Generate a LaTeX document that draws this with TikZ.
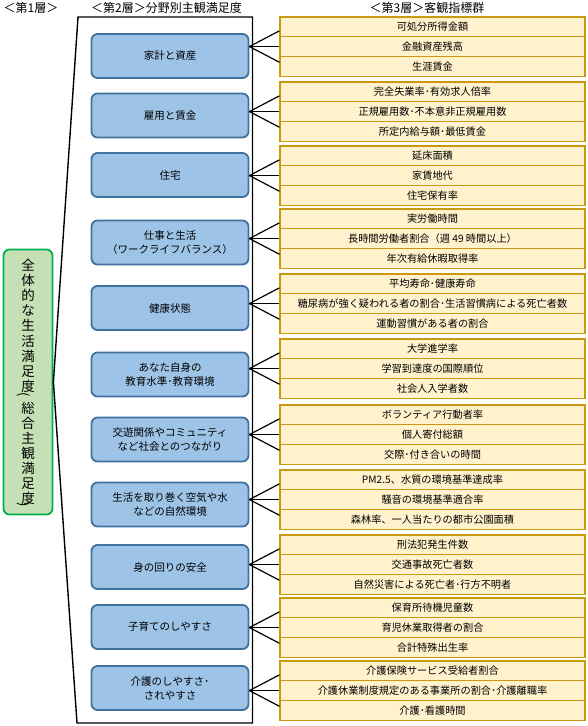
\documentclass[tikz,border=0pt]{standalone}
\usepackage{graphicx}
\usepackage{fontspec}
\setmainfont{Noto Sans CJK JP}
\usetikzlibrary{calc}
\definecolor{yfill}{HTML}{FFF2CC}
\definecolor{ydraw}{HTML}{C99A10}
\definecolor{bfill}{HTML}{9DC3E6}
\definecolor{bdraw}{HTML}{41719C}
\definecolor{gfill}{HTML}{C5E0B4}
\definecolor{gdraw}{HTML}{00B050}
\tikzset{
  hdr/.style={inner sep=0pt, font=\fontsize{12}{14}\selectfont},
  rowbox/.style={draw=ydraw, fill=yfill, line width=1.2pt, minimum width=305pt, minimum height=19.7pt, inner sep=0pt, font=\fontsize{10.2}{12}\selectfont},
  domainbox/.style={draw=bdraw, fill=bfill, line width=1.8pt, rounded corners=6pt, minimum width=157pt, minimum height=44pt, align=center, inner sep=0pt, font=\fontsize{10.5}{14}\selectfont},
  totalbox/.style={draw=gdraw, fill=gfill, line width=1.8pt, rounded corners=6pt, minimum width=49pt, minimum height=265pt, align=center, inner sep=0pt, font=\fontsize{13.5}{15.1}\selectfont},
  parenmark/.style={inner sep=0pt, font=\fontsize{13}{15}\selectfont},
  frameline/.style={draw=black, line width=1.4pt},
  linkline/.style={draw=black, line width=1.2pt}
}
\newcommand\grp[8]{%
  \node[domainbox] (b#1) at (170,#2) {#4};
  \node[rowbox] (r#1a) at (432.5,{#3+9.85}) {#5};
  \node[rowbox] (r#1b) at (432.5,{#3+29.55}) {#6};
  \node[rowbox] (r#1c) at (432.5,{#3+49.25}) {#7};
  \coordinate (c#1) at (b#1.east |- r#1b.west);
  \draw[linkline] (c#1) -- ($(r#1a.west)+(0,4)$);
  \draw[linkline] (c#1) -- (r#1b.west);
  \draw[linkline] (c#1) -- ($(r#1c.west)+(0,-4)$);
}
\begin{document}
\begin{tikzpicture}[x=1pt,y=-1pt]
\useasboundingbox (0,0) rectangle (587,726);
\fill[white] (0,0) rectangle (587,726);
\node[hdr] (h1) at (31,8) {＜第1層＞};
\node[hdr] (h2) at (166.5,8) {＜第2層＞分野別主観満足度};
\node[hdr] (h3) at (427,8) {＜第3層＞客観指標群};
\node[totalbox] (tot) at (28,382) {全\\体\\的\\な\\生\\活\\満\\足\\度\\[6.6pt]総\\合\\主\\観\\満\\足\\度};
\node[parenmark] (p1) at (24,394.5) {\rotatebox{-90}{(}};
\node[parenmark] (p2) at (24,505) {\rotatebox{-90}{)}};
\draw[frameline] (78,17) -- (252.5,17) -- (252.5,723) -- (77,723) -- (tot.east) -- cycle;
\grp{1}{56}{17}{家計と資産}{可処分所得金額}{金融資産残高}{生涯賃金}{}
\grp{2}{115.5}{82}{雇用と賃金}{完全失業率･有効求人倍率}{正規雇用数･不本意非正規雇用数}{所定内給与額･最低賃金}{}
\grp{3}{175}{146}{住宅}{延床面積}{家賃地代}{住宅保有率}{}
\grp{4}{242.5}{209}{仕事と生活\\（ワークライフバランス）}{実労働時間}{長時間労働者割合（週 49 時間以上）}{年次有給休暇取得率}{}
\grp{5}{308}{274}{健康状態}{平均寿命･健康寿命}{糖尿病が強く疑われる者の割合･生活習慣病による死亡者数}{運動習慣がある者の割合}{}
\grp{6}{374.5}{339}{あなた自身の\\教育水準･教育環境}{大学進学率}{学習到達度の国際順位}{社会人入学者数}{}
\grp{7}{439.5}{405}{交遊関係やコミュニティ\\など社会とのつながり}{ボランティア行動者率}{個人寄付総額}{交際･付き合いの時間}{}
\grp{8}{504.5}{470}{生活を取り巻く空気や水\\などの自然環境}{PM2.5、水質の環境基準達成率}{騒音の環境基準適合率}{森林率、一人当たりの都市公園面積}{}
\grp{9}{567}{535}{身の回りの安全}{刑法犯発生件数}{交通事故死亡者数}{自然災害による死亡者･行方不明者}{}
\grp{10}{627}{598}{子育てのしやすさ}{保育所待機児童数}{育児休業取得者の割合}{合計特殊出生率}{}
\grp{11}{688}{661}{介護のしやすさ･\\されやすさ}{介護保険サービス受給者割合}{介護休業制度規定のある事業所の割合･介護離職率}{介護･看護時間}{}
\end{tikzpicture}
\end{document}
